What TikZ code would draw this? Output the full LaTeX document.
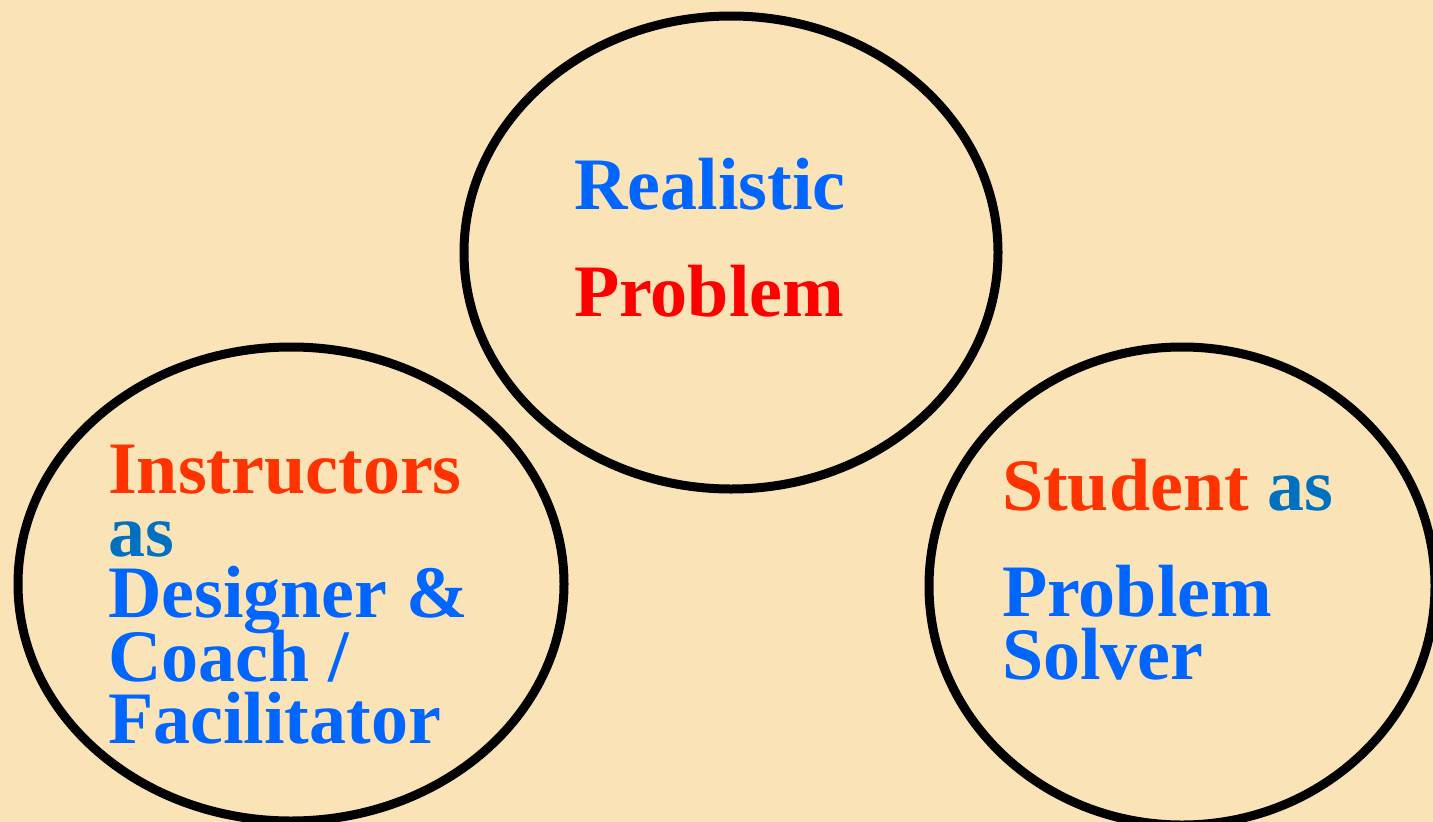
\documentclass[tikz,border=0pt]{standalone}
\usepackage{fontspec}
\setmainfont{Liberation Serif}
\usetikzlibrary{shapes.geometric}
\definecolor{bg}{HTML}{FBE3B8}
\definecolor{tblue}{HTML}{0066FF}
\definecolor{tred}{HTML}{FF0000}
\definecolor{torange}{HTML}{FF3300}
\definecolor{tas}{HTML}{0070C0}
\tikzset{
  ring/.style={draw=black, line width=9pt, shape=ellipse, inner sep=0pt},
  txt/.style={anchor=base west, inner sep=0pt, text height=0.68em, text depth=0.1em,
              font=\fontsize{74}{74}\selectfont\bfseries},
}
\begin{document}
\begin{tikzpicture}[x=1pt,y=-1pt]
\fill[bg] (0,0) rectangle (1433,822);
\useasboundingbox (0,0) rectangle (1433,822);
\node[ring, minimum width=534pt, minimum height=473pt] (top) at (731,252.5) {};
\node[ring, minimum width=546pt, minimum height=474pt] (left) at (291,584) {};
\node[ring, minimum width=506pt, minimum height=478pt] (right) at (1182,586) {};
% top text
\node[txt, text=tblue] (t1) at (574,209) {Realistic};
\node[txt, text=tred] (t2) at (574,316) {Problem};
% left text
\node[txt, text=torange] (l1) at (108,493) {Instructors};
\node[txt, text=tas] (l2) at (108,556) {as};
\node[txt, text=tblue] (l3) at (108,617) {Designer \&};
\node[txt, text=tblue] (l4) at (108,681) {Coach /};
\node[txt, text=tblue] (l5) at (108,743) {Facilitator};
% right text
\node[txt] (r1) at (1002,510) {\textcolor{torange}{Student} \textcolor{tas}{as}};
\node[txt, text=tblue] (r2) at (1002,616) {Problem};
\node[txt, text=tblue] (r3) at (1002,679) {Solver};
\end{tikzpicture}
\end{document}
